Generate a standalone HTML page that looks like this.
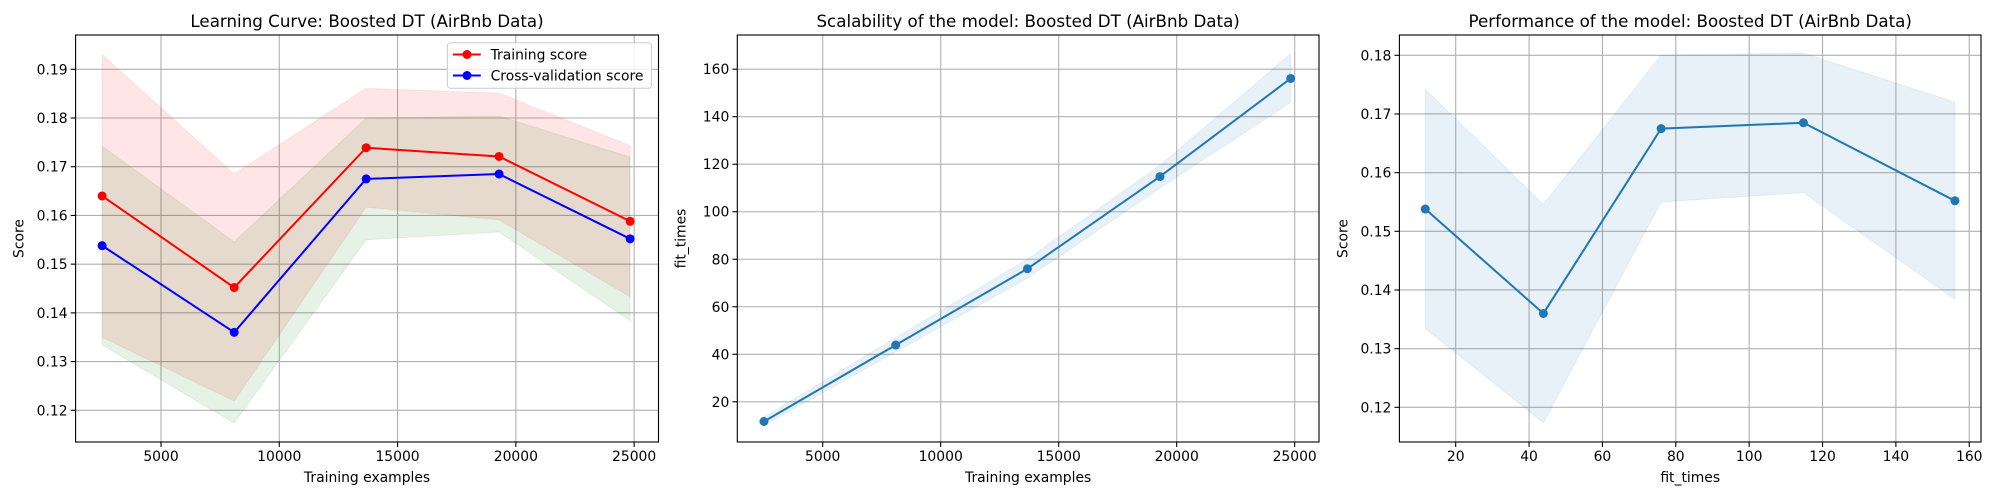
<!DOCTYPE html>
<html><head><meta charset="utf-8"><style>
html,body{margin:0;padding:0;background:#fff;}
svg{display:block;font-family:"DejaVu Sans","Liberation Sans",sans-serif;}
</style></head><body>
<svg id="fig" width="2000" height="500" viewBox="0 0 2000 500" xmlns="http://www.w3.org/2000/svg"></svg>
<script>
// ---- data ----
const trainSizes = [2510, 8094, 13673, 19290, 24830];
const trainMean = [0.1640, 0.1452, 0.1739, 0.1721, 0.1588];
const trainUpper = [0.1930, 0.1685, 0.1861, 0.1851, 0.1743];
const trainLower = [0.1350, 0.1219, 0.1617, 0.1591, 0.1433];
const cvMean = [0.1538, 0.1360, 0.1675, 0.1685, 0.1552];
const cvUpper = [0.1742, 0.1546, 0.1800, 0.1804, 0.1720];
const cvLower = [0.1334, 0.1174, 0.1550, 0.1566, 0.1384];
const fitMean = [11.7, 43.9, 76.0, 114.8, 156.1];
const fitUpper = [13.5, 47.0, 80.0, 119.5, 166.5];
const fitLower = [10.0, 41.0, 72.0, 110.0, 146.0];
const xTicks1 = [5000, 10000, 15000, 20000, 25000];
const yTicks1 = [0.12, 0.13, 0.14, 0.15, 0.16, 0.17, 0.18, 0.19];
const yTicks2 = [20, 40, 60, 80, 100, 120, 140, 160];
const xTicks3 = [20, 40, 60, 80, 100, 120, 140, 160];
const yTicks3 = [0.12, 0.13, 0.14, 0.15, 0.16, 0.17, 0.18];

const NS = "http://www.w3.org/2000/svg";
const svg = document.getElementById('fig');
function mk(tag, attrs, parent, text) {
  const e = document.createElementNS(NS, tag);
  for (const k in attrs) e.setAttribute(k, attrs[k]);
  if (text !== undefined) e.textContent = text;
  (parent || svg).appendChild(e);
  return e;
}
const TOP = 35, BOT = 442;
function makeAxes(name, left, right, xmin, xmax, ymin, ymax) {
  const g = mk('g', {});
  
  
  const sx = v => left + (v - xmin) / (xmax - xmin) * (right - left);
  const sy = v => BOT - (v - ymin) / (ymax - ymin) * (BOT - TOP);
  return {g, sx, sy, left, right};
}
function gridAndTicks(ax, xt, yt, xfmt, yfmt, baseName) {
  const grid = mk('g', {}, ax.g);
  
  
  xt.forEach(v => {
    const x = ax.sx(v);
    mk('line', {x1:x, x2:x, y1:TOP, y2:BOT, stroke:'#b0b0b0', 'stroke-width':1.1}, grid);
    mk('line', {x1:x, x2:x, y1:BOT, y2:BOT+4.9, stroke:'#000', 'stroke-width':1.1}, ax.g);
    const t = mk('text', {x:x, y:BOT+19, 'font-size':'13.9px', 'text-anchor':'middle', fill:'#000'}, ax.g, xfmt(v));
    
    
  });
  yt.forEach(v => {
    const y = ax.sy(v);
    mk('line', {x1:ax.left, x2:ax.right, y1:y, y2:y, stroke:'#b0b0b0', 'stroke-width':1.1}, grid);
    mk('line', {x1:ax.left-4.9, x2:ax.left, y1:y, y2:y, stroke:'#000', 'stroke-width':1.1}, ax.g);
    const t = mk('text', {x:ax.left-8, y:y+5, 'font-size':'13.9px', 'text-anchor':'end', fill:'#000'}, ax.g, yfmt(v));
    
    
  });
}
function band(ax, xs, lo, hi, fill, op, name) {
  let d = xs.map((x,i)=>(i?'L':'M')+ax.sx(x)+','+ax.sy(hi[i])).join(' ');
  for (let i = xs.length-1; i >= 0; i--) d += ' L'+ax.sx(xs[i])+','+ax.sy(lo[i]);
  const p = mk('path', {d:d+' Z', fill:fill, 'fill-opacity':op, stroke:fill, 'stroke-opacity':op*0.8}, ax.g);
  
  
}
function series(ax, xs, ys, color, name) {
  const pts = xs.map((x,i)=>ax.sx(x)+','+ax.sy(ys[i])).join(' ');
  const l = mk('polyline', {points:pts, fill:'none', stroke:color, 'stroke-width':2}, ax.g);
  
  
  xs.forEach((x,i)=>{
    const c = mk('circle', {cx:ax.sx(x), cy:ax.sy(ys[i]), r:4.5, fill:color}, ax.g);
    
    
  });
}
function frame(ax, title, xlabel, ylabel, baseName) {
  mk('rect', {x:ax.left, y:TOP, width:ax.right-ax.left, height:BOT-TOP, fill:'none', stroke:'#000', 'stroke-width':1.1}, ax.g);
  const cx = (ax.left+ax.right)/2;
  const t = mk('text', {x:cx, y:27, 'font-size':'16.7px', 'text-anchor':'middle'}, ax.g, title);
  
  
  const xl = mk('text', {x:cx, y:482, 'font-size':'13.9px', 'text-anchor':'middle'}, ax.g, xlabel);
  
  
  const lx = ax.left - 52;
  const yl = mk('text', {x:lx, y:(TOP+BOT)/2, 'font-size':'13.9px', 'text-anchor':'middle', transform:'rotate(-90 '+lx+' '+(TOP+BOT)/2+')'}, ax.g, ylabel);
  
  
}
const f2 = v => v.toFixed(2), f0 = v => String(v);

// Chart 1
const a1 = makeAxes('learning-curve-chart', 75.6, 658.5, 1390, 26030, 0.11349, 0.19704);
gridAndTicks(a1, xTicks1, yTicks1, f0, f2, 'learning-curve');
band(a1, trainSizes, trainLower, trainUpper, '#ff0000', 0.1, 'training-score-band');
band(a1, trainSizes, cvLower, cvUpper, '#008000', 0.1, 'cv-score-band');
series(a1, trainSizes, trainMean, '#ff0000', 'training-score');
series(a1, trainSizes, cvMean, '#0000ff', 'cv-score');
frame(a1, 'Learning Curve: Boosted DT (AirBnb Data)', 'Training examples', 'Score', 'learning-curve');
// legend
const lg = mk('g', {}, a1.g);


mk('rect', {x:447.4, y:42.7, width:204, height:45.6, rx:3, fill:'#fff', 'fill-opacity':0.8, stroke:'#ccc'}, lg);
[['Training score','#ff0000',54.5],['Cross-validation score','#0000ff',75.5]].forEach(([lab,col,y])=>{
  const e = mk('g', {}, lg);
  
  
  mk('line', {x1:453, x2:480.8, y1:y, y2:y, stroke:col, 'stroke-width':2}, e);
  mk('circle', {cx:467, cy:y, r:4.5, fill:col}, e);
  mk('text', {x:490.6, y:y+5, 'font-size':'13.9px'}, e, lab);
});

// Chart 2
const a2 = makeAxes('scalability-chart', 737.3, 1319, 1381, 26030, 3.07, 174.4);
gridAndTicks(a2, xTicks1, yTicks2, f0, f0, 'scalability');
band(a2, trainSizes, fitLower, fitUpper, '#1f77b4', 0.1, 'fit-times-band');
series(a2, trainSizes, fitMean, '#1f77b4', 'fit-times');
frame(a2, 'Scalability of the model: Boosted DT (AirBnb Data)', 'Training examples', 'fit_times', 'scalability');

// Chart 3
const a3 = makeAxes('performance-chart', 1399.4, 1981, 4.65, 163.2, 0.11409, 0.18346);
gridAndTicks(a3, xTicks3, yTicks3, f0, f2, 'performance');
band(a3, fitMean, cvLower, cvUpper, '#1f77b4', 0.1, 'performance-band');
series(a3, fitMean, cvMean, '#1f77b4', 'performance-score');
frame(a3, 'Performance of the model: Boosted DT (AirBnb Data)', 'fit_times', 'Score', 'performance');
</script>
</body></html>
